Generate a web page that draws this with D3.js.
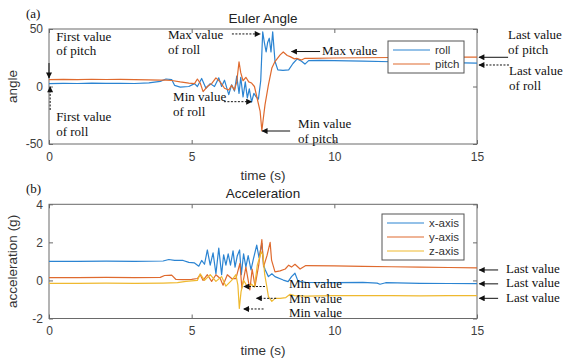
<!DOCTYPE html>
<html>
<head>
<meta charset="utf-8">
<script src="https://cdn.jsdelivr.net/npm/d3@7/dist/d3.min.js"></script>
<style>
    body { margin: 0; background: #fff; }
    svg { display: block; }
    .tick text { font-family: "Liberation Sans", Arial, sans-serif; font-size: 12px; fill: #404040; }
    .tick line { stroke: #6a6a6a; }
    .frame { fill: none; stroke: #6a6a6a; stroke-width: 1; }
    .title { font-family: "Liberation Sans", Arial, sans-serif; font-size: 13.5px; fill: #222; text-anchor: middle; }
    .label { font-family: "Liberation Sans", Arial, sans-serif; font-size: 13.5px; fill: #333; text-anchor: middle; }
    .note  { font-family: "Liberation Serif", "Times New Roman", serif; font-size: 13px; fill: #111; }
    .legend text { font-family: "Liberation Sans", Arial, sans-serif; font-size: 11.5px; fill: #333; }
</style>
</head>
<body>
<svg id="chart" width="566" height="358"></svg>
<script>
// ---- Euler angle (deg) ----
const rollT  = [0, 0.5, 1, 1.5, 2, 2.5, 3, 3.5, 3.9, 4.1, 4.3, 4.4, 4.6, 4.9, 5.1, 5.2, 5.35, 5.5, 5.65, 5.8, 5.95, 6.05, 6.15, 6.3, 6.4, 6.5, 6.58, 6.66, 6.72, 6.8, 6.88, 6.95, 7.02, 7.1, 7.18, 7.26, 7.34, 7.42, 7.49, 7.55, 7.61, 7.66, 7.72, 7.78, 7.84, 7.92, 8.02, 8.2, 8.4, 8.55, 8.7, 8.85, 8.97, 9.1, 9.5, 10, 11, 12, 13, 14, 15];
const rollV  = [2.5, 2.8, 2.6, 2.9, 2.7, 2.8, 2.6, 3.2, 4.5, 6.5, 6, 1, -0.5, 0, 2.5, 0, 7, -1.5, 2.5, 0, 7.5, 0, 5.5, -7, 1.5, -4, 9, -6, 8, -9, 4, -10, -2, -13.5, -6, -9, -11, 5, 47.5, 38, 30, 38, 42, 30, 47.5, 22, 14.5, 14, 14.5, 20, 24, 22, 19.5, 22.5, 22.8, 22.5, 22, 21.5, 21, 20.8, 20.3];
const pitchT = [0, 0.5, 1, 1.5, 2, 2.5, 3, 3.5, 3.9, 4.1, 4.3, 4.6, 4.9, 5.1, 5.2, 5.3, 5.4, 5.55, 5.7, 5.85, 6.0, 6.15, 6.3, 6.4, 6.5, 6.58, 6.66, 6.72, 6.8, 6.9, 7.0, 7.1, 7.2, 7.28, 7.4, 7.46, 7.5, 7.57, 7.69, 7.81, 7.92, 8.1, 8.21, 8.35, 8.45, 8.6, 8.68, 8.85, 8.97, 9.2, 10, 11, 12, 13, 14, 15];
const pitchV = [6, 6.2, 6, 6.3, 6.1, 6.2, 6, 5.8, 5.5, 5.6, 5.2, 4, 3, 2.5, 6.5, 3, -4.5, 0, 2.5, 7.5, 4, -1.5, -3, 1, -3, 4, 21.5, 12, 5, 8, 4, 3, 0, -8.7, -21.7, -38.5, -30, -16, 1.5, 16, 21.7, 27.5, 30, 27, 26, 24, 24.5, 23, 24.5, 24.5, 24.8, 25, 25.2, 25.3, 25.5, 25.5];

// ---- Acceleration (g) ----
const accXT = [0, 1, 2, 3, 4, 4.2, 4.4, 4.7, 4.9, 5.1, 5.25, 5.35, 5.45, 5.55, 5.65, 5.75, 5.85, 5.95, 6.05, 6.12, 6.2, 6.28, 6.36, 6.45, 6.52, 6.6, 6.68, 6.74, 6.82, 6.9, 6.98, 7.08, 7.16, 7.28, 7.36, 7.46, 7.52, 7.58, 7.69, 7.81, 7.92, 8.21, 8.38, 8.5, 8.62, 8.73, 9, 10, 11, 11.5, 11.6, 11.8, 13, 14, 15];
const accXV = [1.0, 1.0, 1.01, 1.0, 1.02, 1.1, 1.05, 1.05, 0.95, 0.92, 0.75, 1.05, 0.85, 1.6, 0.8, 1.45, 0.35, 1.7, 0.3, 1.35, 0.8, 1.4, 0.8, 1.55, 0.7, 1.3, 1.6, 0.3, 1.4, 0.7, 1.3, 0.55, 1.1, 1.86, 1.2, 1.95, 0.8, 0.55, 0.2, 0.35, 0.2, 0.02, -0.06, 0.2, 0.38, -0.05, -0.1, -0.12, -0.1, -0.14, -0.2, -0.12, -0.15, -0.16, -0.17];
const accYT = [0, 1, 2, 3, 3.9, 4.05, 4.3, 4.45, 4.7, 5.0, 5.2, 5.3, 5.4, 5.55, 5.7, 5.85, 6.0, 6.1, 6.25, 6.4, 6.55, 6.69, 6.76, 6.9, 7.04, 7.12, 7.22, 7.35, 7.46, 7.52, 7.64, 7.75, 7.8, 7.92, 8.1, 8.28, 8.4, 8.5, 8.62, 8.8, 9.0, 10, 11, 12, 13, 14, 15];
const accYV = [0.15, 0.15, 0.16, 0.15, 0.16, 0.26, 0.28, 0.05, 0.04, 0.06, 0.1, 0.3, 0.0, 0.3, -0.05, 0.3, 0.1, -0.25, 0.3, 0.1, 0.1, 0.9, -0.4, 0.7, -0.5, 0.6, -0.3, 0.8, 2.15, 0.72, 1.3, 2.0, 1.07, 0.45, 0.5, 0.6, 0.8, 0.7, 0.85, 0.6, 0.78, 0.76, 0.74, 0.72, 0.7, 0.68, 0.66];
const accZT = [0, 1, 2, 3, 4, 4.5, 4.8, 5.0, 5.2, 5.3, 5.45, 5.65, 5.85, 6.05, 6.2, 6.4, 6.55, 6.62, 6.67, 6.73, 6.82, 6.98, 7.1, 7.2, 7.3, 7.44, 7.5, 7.56, 7.62, 7.69, 7.81, 7.92, 8.1, 8.3, 8.45, 8.6, 9, 10, 11, 12, 13, 14, 15];
const accZV = [-0.15, -0.15, -0.14, -0.15, -0.14, -0.12, -0.05, -0.02, 0.0, 0.35, 0.0, 0.3, -0.05, 0.2, -0.3, 0.0, 0.3, -0.25, -1.47, -0.6, 0.0, -0.4, -0.2, -0.35, 0.8, 1.5, 1.33, 0.3, -0.2, -0.85, -1.1, -0.94, -0.94, -0.9, -0.73, -0.8, -0.82, -0.8, -0.8, -0.8, -0.81, -0.8, -0.8];

// ---- ticks ----
const timeTicks  = [0, 5, 10, 15];
const angleTicks = [-50, 0, 50];
const accTicks   = [-2, 0, 2, 4];

// ---- annotations (data units: t, value) ----
const angleNotes = [
    {lines: ['First value', 'of pitch'], at: [0.25, 39.6],  from: [0, 20.4],     to: [0, 7.4],      dash: false},
    {lines: ['First value', 'of roll'],  at: [0.25, -30],   from: [0.04, -20.4], to: [0.04, -0.4],  dash: true},
    {lines: ['Max value', 'of roll'],    at: [4.17, 41.3],  from: [6.41, 45.7],  to: [7.40, 45.7],  dash: true},
    {lines: ['Min value', 'of roll'],    at: [4.35, -13],   from: [6.13, -13.2], to: [7.10, -13.2], dash: true},
    {lines: ['Min value', 'of pitch'],   at: [8.73, -36.1], from: [8.45, -38.7], to: [7.47, -38.7], dash: false},
    {lines: ['Max value'],               at: [9.57, 27.4],  from: [9.50, 30.4],  to: [8.50, 30.4],  dash: false},
    {lines: ['Last value', 'of pitch'],  at: [16.09, 41.3], from: [16.09, 25.4], to: [15.07, 25.4], dash: false},
    {lines: ['Last value', 'of roll'],   at: [16.12, 10],   from: [16.12, 18.7], to: [15.07, 18.7], dash: true}
];
const accNotes = [
    {lines: ['Min value'],  at: [8.41, -0.42],  from: [7.57, -0.32], to: [6.83, -0.32], dash: true},
    {lines: ['Min value'],  at: [8.41, -1.16],  from: [7.96, -0.94], to: [7.27, -0.94], dash: true},
    {lines: ['Min value'],  at: [8.41, -1.9],   from: [7.52, -1.5],  to: [6.82, -1.5],  dash: true},
    {lines: ['Last value'], at: [16.02, 0.365], from: [15.74, 0.55], to: [15.08, 0.55], dash: false},
    {lines: ['Last value'], at: [16.02, -0.37], from: [15.74, -0.18], to: [15.08, -0.18], dash: false},
    {lines: ['Last value'], at: [16.02, -1.11], from: [15.74, -0.94], to: [15.08, -0.94], dash: false}
];

const colors = {blue: '#2b84d2', orange: '#df6a2e', yellow: '#efb92f'};

const svg = d3.select('#chart');

svg.append('defs').append('marker')
    .attr('id', 'head')
    .attr('viewBox', '0 0 10 10')
    .attr('refX', 9).attr('refY', 5)
    .attr('markerWidth', 7).attr('markerHeight', 6)
    .attr('orient', 'auto')
    .append('path').attr('d', 'M0,0L10,5L0,10z').attr('fill', '#111');

const x = d3.scaleLinear().domain([0, 15]).range([49, 477]);

function zip(t, v) {
    return t.map((e, i) => ({t: e, v: v[i]}));
}

function panel(opts) {
    const y = d3.scaleLinear().domain(opts.domain).range(opts.range);
    const top = opts.range[1], bottom = opts.range[0];
    const g = svg.append('g');

    // axes (MATLAB-style box, ticks pointing inside)
    g.append('g').attr('transform', `translate(0,${bottom})`)
        .call(d3.axisBottom(x).tickValues(timeTicks).tickSize(-4).tickPadding(8).tickFormat(d => d));
    g.append('g').attr('transform', `translate(0,${top})`)
        .call(d3.axisTop(x).tickValues(timeTicks).tickSize(-4).tickFormat(''));
    g.append('g').attr('transform', `translate(${x(0)},0)`)
        .call(d3.axisLeft(y).tickValues(opts.ticks).tickSize(-4).tickPadding(6).tickFormat(d => d));
    g.append('g').attr('transform', `translate(${x(15)},0)`)
        .call(d3.axisRight(y).tickValues(opts.ticks).tickSize(-4).tickFormat(''));
    g.selectAll('.domain').remove();

    g.append('rect').attr('class', 'frame')
        .attr('x', x(0)).attr('y', top)
        .attr('width', x(15) - x(0)).attr('height', bottom - top);

    const line = d3.line().x(d => x(d.t)).y(d => y(d.v));
    opts.series.forEach(s => {
        g.append('path')
            .datum(zip(s.t, s.v))
            .attr('fill', 'none')
            .attr('stroke', s.color)
            .attr('stroke-width', 1.2)
            .attr('stroke-linejoin', 'round')
            .attr('d', line);
    });

    g.append('text').attr('class', 'title')
        .attr('x', (x(0) + x(15)) / 2).attr('y', top - 6).text(opts.title);
    g.append('text').attr('class', 'label')
        .attr('x', (x(0) + x(15)) / 2).attr('y', bottom + 36).text('time (s)');
    g.append('text').attr('class', 'label')
        .attr('transform', `translate(17,${(top + bottom) / 2}) rotate(-90)`).text(opts.ylabel);
    g.append('text').attr('class', 'note')
        .attr('x', 26).attr('y', top - 11).text(opts.tag);

    // legend
    const lg = g.append('g').attr('class', 'legend');
    lg.append('rect')
        .attr('x', opts.legend.x).attr('y', opts.legend.y)
        .attr('width', opts.legend.w).attr('height', opts.series.length * 14 + 4)
        .attr('fill', '#fff').attr('stroke', '#555');
    opts.series.forEach((s, i) => {
        const ly = opts.legend.y + 9 + i * 14;
        lg.append('line')
            .attr('x1', opts.legend.x + 5).attr('x2', opts.legend.x + 42)
            .attr('y1', ly).attr('y2', ly)
            .attr('stroke', s.color).attr('stroke-width', 1.2);
        lg.append('text')
            .attr('x', opts.legend.x + 47).attr('y', ly + 4).text(s.name);
    });

    // annotations
    opts.notes.forEach(n => {
        g.append('line')
            .attr('x1', x(n.from[0])).attr('y1', y(n.from[1]))
            .attr('x2', x(n.to[0])).attr('y2', y(n.to[1]))
            .attr('stroke', '#111').attr('stroke-width', 1)
            .attr('stroke-dasharray', n.dash ? '2,1.5' : null)
            .attr('marker-end', 'url(#head)');
        const t = g.append('text').attr('class', 'note')
            .attr('x', x(n.at[0])).attr('y', y(n.at[1]));
        n.lines.forEach((l, i) => {
            t.append('tspan').attr('x', x(n.at[0])).attr('dy', i ? 14.5 : 0).text(l);
        });
    });
}

panel({
    title: 'Euler Angle', ylabel: 'angle', tag: '(a)',
    domain: [-50, 50], range: [144, 29], ticks: angleTicks,
    series: [
        {name: 'roll',  t: rollT,  v: rollV,  color: colors.blue},
        {name: 'pitch', t: pitchT, v: pitchV, color: colors.orange}
    ],
    legend: {x: 388, y: 41, w: 76},
    notes: angleNotes
});

panel({
    title: 'Acceleration', ylabel: 'acceleration (g)', tag: '(b)',
    domain: [-2, 4], range: [318.5, 204.3], ticks: accTicks,
    series: [
        {name: 'x-axis', t: accXT, v: accXV, color: colors.blue},
        {name: 'y-axis', t: accYT, v: accYV, color: colors.orange},
        {name: 'z-axis', t: accZT, v: accZV, color: colors.yellow}
    ],
    legend: {x: 382, y: 214, w: 82},
    notes: accNotes
});
</script>
</body>
</html>
